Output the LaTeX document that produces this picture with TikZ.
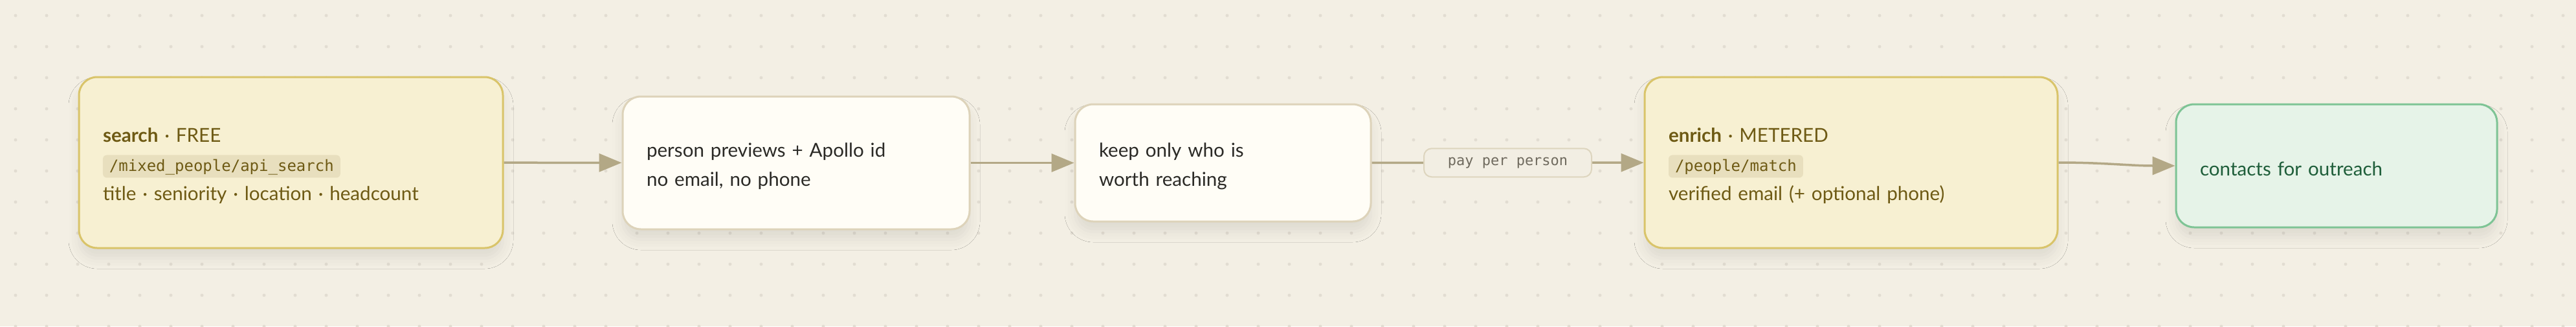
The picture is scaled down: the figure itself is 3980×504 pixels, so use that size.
\documentclass[tikz,border=0pt]{standalone}
\usepackage{fontspec}
\setmainfont{Lato}
\setmonofont{DejaVu Sans Mono}
\usetikzlibrary{arrows.meta,shadows.blur}

\definecolor{paper}{HTML}{F3EFE4}
\definecolor{dotgrey}{HTML}{E2DDD2}
\definecolor{goldfill}{HTML}{F7F0D2}
\definecolor{goldline}{HTML}{D9C46A}
\definecolor{goldtext}{HTML}{6E5A14}
\definecolor{chipfill}{HTML}{E8DFBE}
\definecolor{plainfill}{HTML}{FFFDF6}
\definecolor{plainline}{HTML}{DDD3BA}
\definecolor{plaintext}{HTML}{2B2A26}
\definecolor{flowcol}{HTML}{B3A886}
\definecolor{payfill}{HTML}{F2EEE3}
\definecolor{payline}{HTML}{DDD5BE}
\definecolor{paytext}{HTML}{6F6A5E}
\definecolor{mintfill}{HTML}{E6F3E8}
\definecolor{mintline}{HTML}{7EC495}
\definecolor{minttext}{HTML}{1F5E3A}

\tikzset{
  card/.style={rounded corners=14pt, line width=1.5pt, align=left,
    inner xsep=18.5pt, inner ysep=0pt, font=\fontsize{14.8pt}{22.5pt}\selectfont,
    execute at begin node={\rule{0pt}{16pt}},
    blur shadow={shadow xshift=0pt, shadow yshift=-8pt, shadow blur radius=8pt, shadow opacity=8}},
  metered/.style={card, fill=goldfill, draw=goldline, text=goldtext},
  plain/.style={card, fill=plainfill, draw=plainline, text=plaintext},
  result/.style={card, fill=mintfill, draw=mintline, text=minttext},
  chipbox/.style={fill=chipfill, draw=none, rounded corners=3pt, inner xsep=5pt, inner ysep=0pt,
    minimum width=0pt, minimum height=0pt, text height=12.5pt, text depth=5pt,
    execute at begin node={}, font=\ttfamily\fontsize{12pt}{14pt}\selectfont},
  flow/.style={draw=flowcol, line width=1.75pt, -{Triangle[length=17.5pt,width=14pt]}},
  paylabel/.style={fill=payfill, draw=payline, line width=1pt, rounded corners=6pt,
    minimum width=129.5pt, minimum height=22pt, inner sep=0pt, text=paytext,
    font=\ttfamily\fontsize{11pt}{13pt}\selectfont}
}

\newcommand{\apichip}[1]{\tikz[baseline=(chip.base)]\node[chipbox] (chip) {#1};}

\begin{document}
\begin{tikzpicture}[x=0.5pt,y=-0.5pt]
  % paper with dot grid
  \fill[paper] (0,0) rectangle (3980,504);
  \useasboundingbox (0,0) rectangle (3980,504);
  \foreach \i in {0,...,82}
    \foreach \j in {0,...,10}
      \fill[dotgrey] ({24+48*\i},{24+48*\j}) circle (1.25pt);

  % stages
  \node[metered, text width=290.5pt, minimum height=132pt] (search) at (449.5,251)
    {\textbf{search} · FREE\\\apichip{/mixed\_people/api\_search}\\title · seniority · location · headcount};
  \node[plain, text width=231pt, minimum height=102.5pt] (preview) at (1230,251.5)
    {person previews + Apollo id\\no email, no phone};
  \node[plain, text width=191.5pt, minimum height=90.5pt] (filter) at (1889.5,251.5)
    {keep only who is\\worth reaching};
  \node[metered, text width=282pt, minimum height=132pt] (enrich) at (2860,251)
    {\textbf{enrich} · METERED\\\apichip{/people/match}\\verified email (+ optional phone)};
  \node[result, text width=211pt, minimum height=95pt] (outreach) at (3610,256)
    {contacts for outreach};

  % connectors
  \draw[flow] (search) -- (preview);
  \draw[flow] (preview) -- (filter);
  \draw[flow] (filter) -- node[paylabel] (pay) {pay per person} (enrich);
  \draw[flow] (enrich) to[out=0,in=180] (outreach);
\end{tikzpicture}
\end{document}
